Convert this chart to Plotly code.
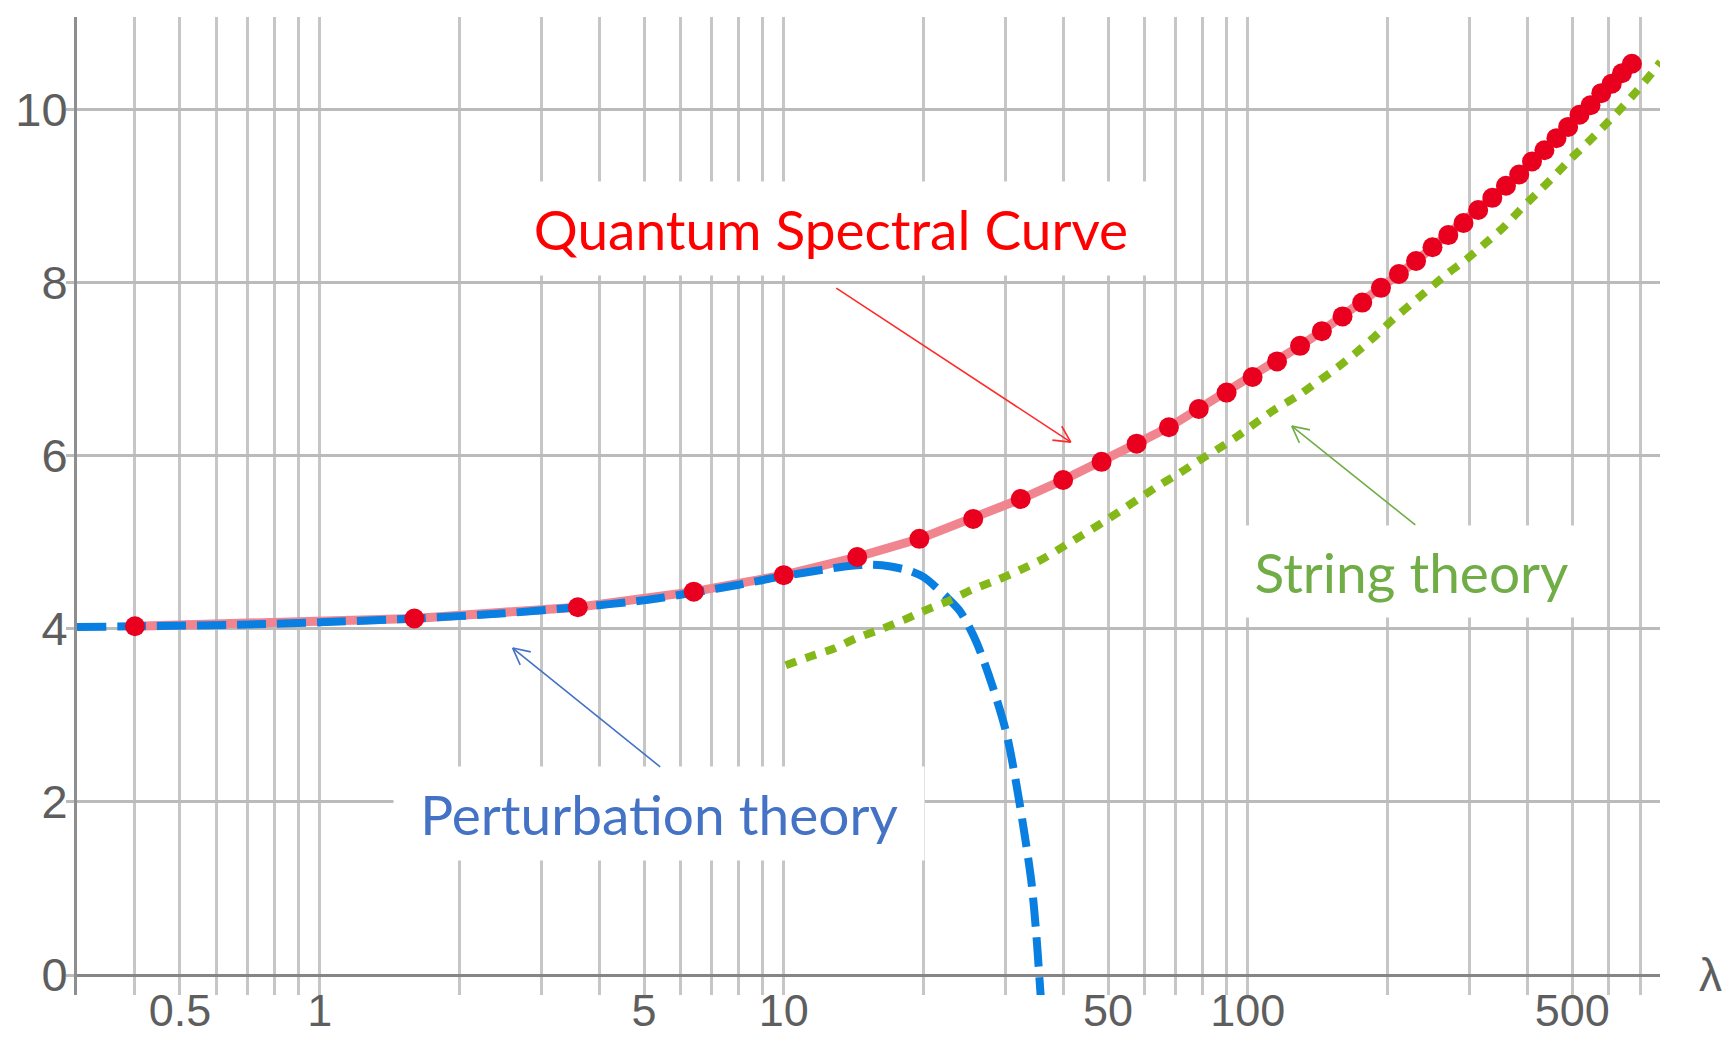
import numpy as np
import plotly.graph_objects as go

# ---------------- data ----------------
# Quantum Spectral Curve points
qsc_lambda = [0.4, 1.6, 3.6, 6.4, 10.0, 14.4, 19.6, 25.6, 32.4, 40.0, 48.4, 57.6, 67.6,
              78.4, 90.0, 102.4, 115.6, 129.6, 144.4, 160.0, 176.4, 193.6, 211.6, 230.4,
              250.0, 270.4, 291.6, 313.6, 336.4, 360.0, 384.4, 409.6, 435.6, 462.4, 490.0,
              518.4, 547.6, 577.6, 608.4, 640.0, 672.4]
qsc_delta = [4.03, 4.12, 4.25, 4.43, 4.62, 4.83, 5.04, 5.27, 5.50, 5.72, 5.93, 6.14, 6.33,
             6.54, 6.73, 6.91, 7.09, 7.27, 7.44, 7.61, 7.77, 7.94, 8.10, 8.25, 8.41, 8.55,
             8.69, 8.84, 8.98, 9.12, 9.25, 9.40, 9.53, 9.67, 9.80, 9.94, 10.05, 10.19,
             10.30, 10.42, 10.53]

# Perturbation theory curve
pert_lambda = [0.3, 0.4, 0.7, 1.0, 1.6, 2.5, 3.6, 5.0, 6.4, 8.0, 10.0, 12.4, 14.0, 15.5,
               17.0, 18.7, 20.0, 21.3, 22.6, 24.0, 26.0, 28.2, 30.2, 31.7, 33.0, 34.2,
               35.0, 35.5, 35.9]
pert_delta = [4.02, 4.03, 4.05, 4.075, 4.12, 4.18, 4.25, 4.33, 4.42, 4.51, 4.61, 4.69,
              4.73, 4.74, 4.72, 4.67, 4.60, 4.48, 4.35, 4.20, 3.85, 3.33, 2.79, 2.21,
              1.64, 1.06, 0.48, 0.02, -0.35]

# String theory curve
string_lambda = [10.1, 11.4, 12.8, 14.3, 16.1, 18.1, 20.3, 22.8, 25.4, 28.7, 32.3, 36.2,
                 40.6, 50.0, 63.6, 71.3, 78.2, 86.3, 94.6, 104, 114, 127, 141, 156, 171,
                 187, 206, 235, 270, 296, 324, 354, 386, 419, 455, 494, 538, 588, 639,
                 690, 747, 775]
string_delta = [3.58, 3.68, 3.77, 3.89, 3.99, 4.10, 4.22, 4.33, 4.45, 4.56, 4.68, 4.81,
                4.97, 5.27, 5.64, 5.80, 5.94, 6.08, 6.22, 6.38, 6.53, 6.68, 6.85, 7.02,
                7.19, 7.37, 7.58, 7.84, 8.11, 8.27, 8.45, 8.63, 8.84, 9.03, 9.22, 9.42,
                9.61, 9.82, 10.02, 10.22, 10.44, 10.55]

# axis ticks / grid
x_grid = [0.4, 0.5, 0.6, 0.7, 0.8, 0.9, 1, 2, 3, 4, 5, 6, 7, 8, 9, 10, 20, 30, 40, 50,
          60, 70, 80, 90, 100, 200, 300, 400, 500, 600, 700]
x_labels = {0.5: "0.5", 1: "1", 5: "5", 10: "10", 50: "50", 100: "100", 500: "500"}
y_ticks = [0, 2, 4, 6, 8, 10]

# ---------------- styling ----------------
RED = "#E8001E"
PINK = "#F08590"
BLUE = "#0A7FE2"
GREEN = "#84B818"
GRIDV = "#C6C6C6"
GRIDH = "#BBBBBB"
XFONT = dict(family="Liberation Sans, Arial, sans-serif", size=45, color="#5E5E5E")
YFONT = dict(family="Liberation Sans, Arial, sans-serif", size=47, color="#5E5E5E")
LABELFONT = "Lato, Carlito, sans-serif"

fig = go.Figure()

fig.add_trace(go.Scatter(x=qsc_lambda, y=qsc_delta, mode="lines",
                         line=dict(color=PINK, width=9), hoverinfo="skip"))
fig.add_trace(go.Scatter(x=pert_lambda, y=pert_delta, mode="lines",
                         line=dict(color=BLUE, width=8, dash="29px,11px",
                                   shape="spline", smoothing=0.8)))
fig.add_trace(go.Scatter(x=string_lambda, y=string_delta, mode="lines",
                         line=dict(color=GREEN, width=8, dash="11px,10px",
                                   shape="spline", smoothing=0.8)))
fig.add_trace(go.Scatter(x=qsc_lambda, y=qsc_delta, mode="markers",
                         marker=dict(color=RED, size=20, line=dict(width=0))))

fig.update_xaxes(type="log", range=[np.log10(0.3), np.log10(773)],
                 tickmode="array", tickvals=x_grid,
                 ticktext=[x_labels.get(v, "") for v in x_grid],
                 showgrid=True, gridcolor=GRIDV, gridwidth=3,
                 showline=False, zeroline=False, ticks="",
                 ticklabelstandoff=-15,
                 tickfont=XFONT, fixedrange=True, automargin=False)
fig.update_yaxes(range=[-0.231, 11.07], tickmode="array", tickvals=y_ticks,
                 showgrid=True, gridcolor=GRIDH, gridwidth=3,
                 showline=True, linecolor="#8E8E8E", linewidth=3,
                 zeroline=True, zerolinecolor="#858585", zerolinewidth=3,
                 ticks="outside", ticklen=8, tickwidth=3, tickcolor=GRIDH,
                 ticklabelstandoff=-11,
                 tickfont=YFONT, fixedrange=True, automargin=False)


def px2lx(px):
    return (px - 320.0) / 464.0


def px2y(py):
    return (975.0 - py) / 86.56


def add_label(text, cx, cy, w, h, color):
    fig.add_annotation(x=px2lx(cx), y=px2y(cy), xref="x", yref="y", text=text,
                       showarrow=False, font=dict(family=LABELFONT, size=55, color=color),
                       bgcolor="white", width=w, height=h, borderpad=0,
                       align="center", valign="middle")


def add_arrow(tx, ty, ax, ay, color, width=1.6, head=20, ang=27):
    x, y = px2lx(tx), px2y(ty)
    fig.add_annotation(x=x, y=y, ax=ax, ay=ay, xref="x", yref="y", text="",
                       showarrow=True, arrowhead=0, arrowcolor=color,
                       arrowwidth=width, standoff=0, startstandoff=0)
    u = np.array([ax, ay], float)
    u /= np.linalg.norm(u)
    for s in (1, -1):
        a = np.deg2rad(ang * s)
        r = np.array([u[0] * np.cos(a) - u[1] * np.sin(a),
                      u[0] * np.sin(a) + u[1] * np.cos(a)]) * head
        fig.add_annotation(x=x, y=y, ax=float(r[0]), ay=float(r[1]), xref="x", yref="y",
                           text="", showarrow=True, arrowhead=0, arrowcolor=color,
                           arrowwidth=width, standoff=0, startstandoff=0)


add_label("Quantum Spectral Curve", 831, 228.5, 632, 93, "#FF0000")
add_label("String theory", 1412, 571.5, 345, 91, "#70AD47")
add_label("Perturbation theory", 659, 813.5, 530, 93, "#4472C4")

add_arrow(1071, 442, -236, -155, "#FF2A2A")
add_arrow(1292, 426, 125, 100, "#70AD47")
add_arrow(513, 648, 149, 120, "#4472C4")

fig.add_annotation(x=1, y=0, xref="paper", yref="y", text="λ", showarrow=False,
                   xanchor="center", yanchor="middle", xshift=50,
                   font=dict(family="Liberation Sans, Arial, sans-serif", size=46,
                             color="#5E5E5E"))

fig.update_layout(width=1732, height=1040,
                  margin=dict(l=77, r=72, t=17, b=45, pad=0),
                  plot_bgcolor="white", paper_bgcolor="white",
                  showlegend=False)

fig.write_html("out.html")
